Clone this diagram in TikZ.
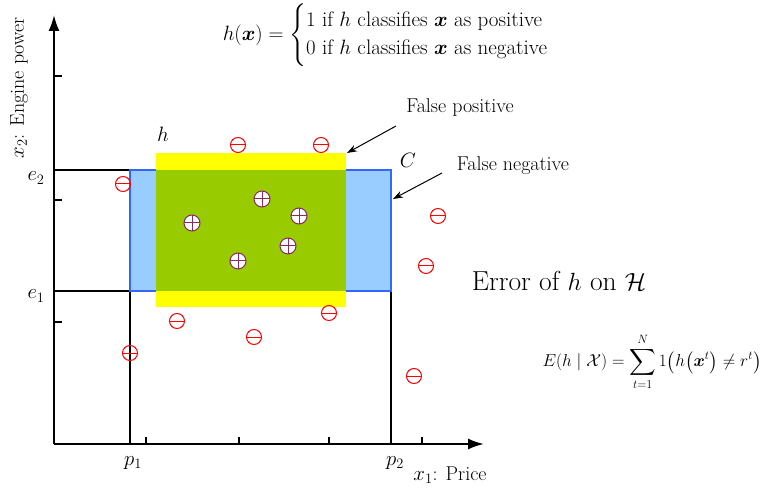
\documentclass[tikz,border=0pt]{standalone}
\usepackage{amsmath,amssymb,bm}
\usepackage{tikz}
\usetikzlibrary{arrows.meta,positioning}
\definecolor{hyellow}{RGB}{255,255,0}
\definecolor{hgreen}{RGB}{153,204,0}
\definecolor{cfill}{RGB}{153,204,255}
\definecolor{cline}{RGB}{51,102,255}
\definecolor{negred}{RGB}{255,0,0}
\definecolor{pospurple}{RGB}{140,40,100}
\tikzset{
  axis/.style={black,line width=2pt,-{Latex[length=16pt,width=11pt]}},
  bound/.style={black,line width=1.8pt},
  tick/.style={black,line width=1.6pt},
  pointer/.style={-{Stealth[length=10pt,width=7pt]},line width=1pt},
  negpt/.style={circle,draw=negred,line width=1pt,minimum size=15pt,inner sep=0pt,
    path picture={\draw[negred,line width=1pt] (path picture bounding box.west)--(path picture bounding box.east);}},
  pospt/.style={circle,draw=pospurple,fill=white,line width=1pt,minimum size=16pt,inner sep=0pt,
    path picture={\draw[pospurple,line width=1pt]
      (path picture bounding box.west)--(path picture bounding box.east)
      (path picture bounding box.north)--(path picture bounding box.south);}},
  lab/.style={font=\fontsize{20}{24}\selectfont,inner sep=1pt},
  big/.style={font=\fontsize{27.5}{32}\selectfont},
  eqn/.style={font=\fontsize{21}{24}\selectfont,inner sep=0pt},
  small/.style={font=\fontsize{18.5}{21}\selectfont,inner sep=0pt},
}

\begin{document}
\begin{tikzpicture}[x=1pt,y=-1pt]
  \path[use as bounding box] (0,0) rectangle (772,492);

  \coordinate (O) at (54,444);
  \draw[axis] (O) -- (484,444);
  \draw[axis] (O) -- (54,15);
  \foreach \tx in {146,239,329,422} \draw[tick] (\tx,444) -- (\tx,437);
  \foreach \ty in {76,200,322} \draw[tick] (54,\ty) -- (62,\ty);

  \draw[bound] (54,170) -- (130,170);
  \draw[bound] (54,291) -- (130,291) -- (130,444);
  \draw[bound] (391,291) -- (391,444);

  \draw[draw=cline,fill=cfill,line width=1.3pt] (130,170) rectangle (391,291);
  \fill[hyellow] (156,153) rectangle (346,307);
  \fill[hgreen] (156,170) rectangle (346,291);

  \foreach \px/\py [count=\i] in {238/145,321/145,123/184,438/216,426/266,177/321,329/313,254/337,130/353,414/376}
    \node[negpt] (N\i) at (\px,\py) {};
  \foreach \px/\py [count=\i] in {262/199,299/216,192/223,288/246,238/261}
    \node[pospt] (P\i) at (\px,\py) {};

  \node[lab] (E2) at (36,178) {$e_2$};
  \node[lab] (E1) at (36,296) {$e_1$};
  \node[lab] (PA) at (133,463) {$p_1$};
  \node[lab] (PB) at (395,463) {$p_2$};
  \node[lab] (XL) at (450,475) {$x_1$: Price};
  \node[lab,rotate=90] (YL) at (19,88) {$x_2$: Engine power};
  \node[lab] (HL) at (163,134) {$h$};
  \node[lab] (CL) at (408,160) {$C$};

  \node[lab] (FP) at (460,108) {False positive};
  \node[lab] (FN) at (513,166) {False negative};
  \coordinate (FPtip) at (347,153);
  \coordinate (FNtip) at (393,199);
  \draw[pointer] (396,126) -- (FPtip);
  \draw[pointer] (442,173) -- (FNtip);

  \node[eqn] (HX) at (396,35)
    {$h(\bm{x})=\begin{cases}1\text{ if }h\text{ classifies }\bm{x}\text{ as positive}\\[-1pt]
                             0\text{ if }h\text{ classifies }\bm{x}\text{ as negative}\end{cases}$};
  \node[big] (ERR) at (559,281) {Error of $h$ on $\mathcal{H}$};
  \node[small] (EQ) at (652,362)
    {$\displaystyle E(h\mid\mathcal{X})=\sum_{t=1}^{N}1\bigl(h\bigl(\bm{x}^t\bigr)\neq r^t\bigr)$};
\end{tikzpicture}
\end{document}
